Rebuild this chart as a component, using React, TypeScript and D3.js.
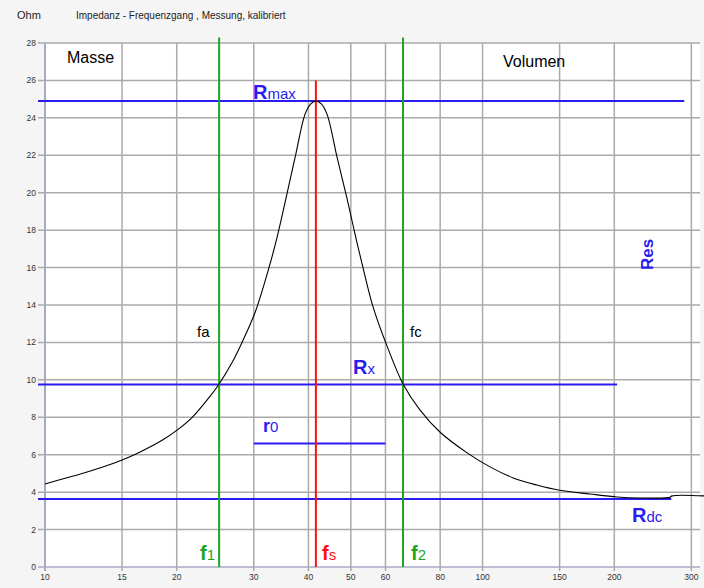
import React from 'react';
import * as d3 from 'd3';

const W = 704;
const H = 588;

// measured impedance curve (Hz / Ohm)
const freqs = [10, 11.6, 13.4, 15, 16.5, 18.6, 20, 21.7, 23.8, 25, 26.8, 28.2, 30.2, 32.5, 33.9, 37.3, 39.3, 40.5, 41.6, 42.8, 44.1, 46.5, 49, 51.1, 53.3, 56.2, 60.5, 65.8, 71.9, 80, 92.2, 104, 117.5, 133, 150, 176, 203, 229, 268, 271, 321];
const ohms = [4.44, 4.86, 5.3, 5.72, 6.15, 6.8, 7.3, 8.0, 9.1, 9.78, 10.95, 12.0, 13.6, 16.0, 17.6, 21.9, 24.2, 24.75, 24.9, 24.75, 24.2, 21.9, 19.7, 17.8, 16.0, 13.9, 11.8, 9.78, 8.4, 7.2, 6.1, 5.35, 4.76, 4.38, 4.1, 3.9, 3.74, 3.69, 3.72, 3.8, 3.8];

const xTicks = [10, 15, 20, 30, 40, 50, 60, 80, 100, 150, 200, 300];
const yTicks = [0, 2, 4, 6, 8, 10, 12, 14, 16, 18, 20, 22, 24, 26, 28];

// characteristic values
const fs = 41.6;
const f1 = 25;
const f2 = 65.8;
const Rmax = 24.9;
const Rx = 9.75;
const Rdc = 3.63;
const r0 = 6.6;
const r0Range = [30, 60];
const hLineEnds = { Rmax: 289, Rx: 203, Rdc: 270 };

const BLUE = '#2a1cf0';
const GREEN = '#1ea51e';
const RED = '#ff1010';
const FONT = 'Arial, "Liberation Sans", sans-serif';

export default function App() {
  const x = d3.scaleLog().domain([10, 314]).range([45, 700]);
  const y = d3.scaleLinear().domain([0, 28]).range([567, 43]);
  const line = d3.line<number>()
    .x((_, i) => x(freqs[i]))
    .y(d => y(d))
    .curve(d3.curveCatmullRom.alpha(0.5));

  const hLine = (v: number, fEnd: number, key: string) => (
    <line key={key} x1={x(9.64)} x2={x(fEnd)} y1={y(v)} y2={y(v)} stroke={BLUE} strokeWidth={2} />
  );

  return (
    <svg width={W} height={H} style={{ position: 'absolute', left: 0, top: 0, fontFamily: FONT }}>
      <rect width={W} height={H} fill="#f5f5f5" />
      <rect x={x(10)} y={y(28)} width={x(314) - x(10)} height={y(0) - y(28)} fill="#ffffff" />
      <text x={17} y={19} fontSize={11} fill="#222">Ohm</text>
      <text x={76} y={19} fontSize={10} fill="#222">Impedanz - Frequenzgang , Messung, kalibriert</text>

      {/* grid */}
      {yTicks.map(t => (
        <g key={'y' + t}>
          <line x1={x(10) - 7} x2={x(314)} y1={y(t)} y2={y(t)} stroke={t === 0 ? '#a8a8c8' : '#aaaaaa'} strokeWidth={1.5} />
          <text x={36} y={y(t) + 3} fontSize={8.5} textAnchor="end" fill="#333">{t}</text>
        </g>
      ))}
      {xTicks.map(t => (
        <g key={'x' + t}>
          <line x1={x(t)} x2={x(t)} y1={y(28)} y2={y(0) + 4} stroke={t === 10 ? '#a8a8c8' : '#aaaaaa'} strokeWidth={t === 10 ? 2 : 1.5} />
          <text x={x(t)} y={580} fontSize={8.5} textAnchor="middle" fill="#333">{t}</text>
        </g>
      ))}

      {/* marker lines */}
      {hLine(Rmax, hLineEnds.Rmax, 'rmax')}
      {hLine(Rx, hLineEnds.Rx, 'rx')}
      {hLine(Rdc, hLineEnds.Rdc, 'rdc')}
      <line x1={x(r0Range[0])} x2={x(r0Range[1])} y1={y(r0)} y2={y(r0)} stroke={BLUE} strokeWidth={2} />
      <line x1={x(f1)} x2={x(f1)} y1={y(28.3)} y2={y(0)} stroke={GREEN} strokeWidth={2} />
      <line x1={x(f2)} x2={x(f2)} y1={y(28.3)} y2={y(0)} stroke={GREEN} strokeWidth={2} />
      <line x1={x(fs)} x2={x(fs)} y1={y(26)} y2={y(0)} stroke={RED} strokeWidth={2} />

      {/* impedance curve */}
      <path d={line(ohms) || ''} fill="none" stroke="#000" strokeWidth={1.1} />

      {/* labels */}
      <text x={67} y={63} fontSize={16} fill="#000">Masse</text>
      <text x={503} y={67} fontSize={16} fill="#000">Volumen</text>
      <text x={197} y={337} fontSize={15} fill="#000">fa</text>
      <text x={410} y={337} fontSize={15} fill="#000">fc</text>
      <text x={253} y={99} fill={BLUE}><tspan fontSize={20} fontWeight="bold">R</tspan><tspan fontSize={15}>max</tspan></text>
      <text x={353} y={374} fill={BLUE}><tspan fontSize={20} fontWeight="bold">R</tspan><tspan fontSize={15}>x</tspan></text>
      <text x={263} y={432} fill={BLUE}><tspan fontSize={18} fontWeight="bold">r</tspan><tspan fontSize={15}>0</tspan></text>
      <text x={632} y={522} fill={BLUE}><tspan fontSize={20} fontWeight="bold">R</tspan><tspan fontSize={15}>dc</tspan></text>
      <text transform="translate(653,270) rotate(-90)" fill={BLUE} fontSize={17} fontWeight="bold">Res</text>
      <text x={200} y={560} fill={GREEN}><tspan fontSize={20} fontWeight="bold">f</tspan><tspan fontSize={15}>1</tspan></text>
      <text x={322} y={560} fill={RED}><tspan fontSize={20} fontWeight="bold">f</tspan><tspan fontSize={15}>s</tspan></text>
      <text x={411} y={560} fill={GREEN}><tspan fontSize={20} fontWeight="bold">f</tspan><tspan fontSize={15}>2</tspan></text>
    </svg>
  );
}
